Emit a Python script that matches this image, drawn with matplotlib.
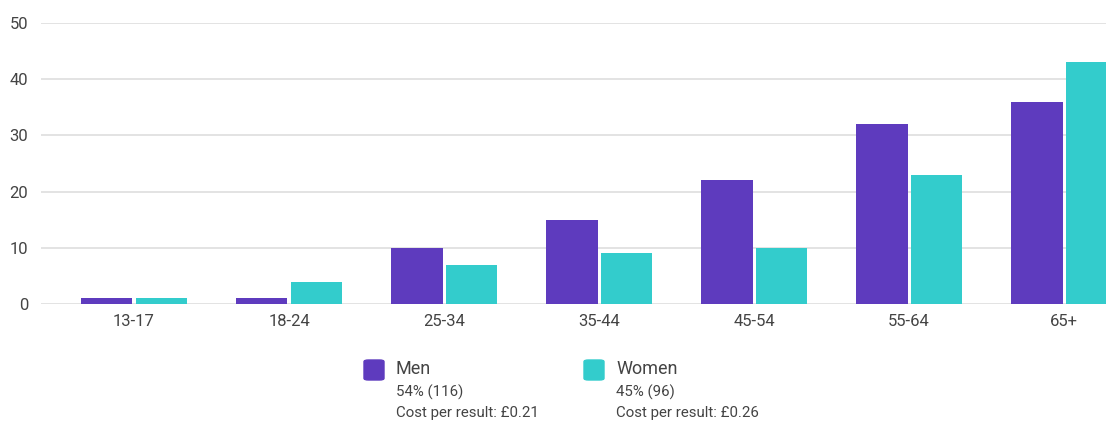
import numpy as np
import matplotlib.pyplot as plt
from matplotlib.patches import FancyBboxPatch

ages = ['13-17', '18-24', '25-34', '35-44', '45-54', '55-64', '65+']
men = [1, 1, 10, 15, 22, 32, 36]
women = [1, 4, 7, 9, 10, 23, 43]
series = ['Men', 'Women']
shares = ['54% (116)', '45% (96)']
costs = ['Cost per result: £0.21', 'Cost per result: £0.26']

MEN_C = '#5E3BBE'
WOMEN_C = '#33CCCC'
TXT = '#444444'

plt.rcParams['font.family'] = ['Roboto', 'DejaVu Sans']

def Main():
    W, H = 1106, 421
    fig = plt.figure(figsize=(W / 100, H / 100), dpi=100)
    ax = fig.add_axes([41 / W, (H - 304) / H, 1 - 41 / W, (304 - 23) / H])

    x = np.arange(len(ages))
    bw = 0.33
    ax.bar(x - bw / 2 - 0.01, men, width=bw, color=MEN_C, zorder=3)
    ax.bar(x + bw / 2 + 0.01, women, width=bw, color=WOMEN_C, zorder=3)

    ax.set_xlim(-0.6, 6.27)
    ax.set_ylim(0, 50)
    ax.set_yticks(range(0, 51, 10))
    ax.set_xticks(x)
    ax.set_xticklabels(ages)
    ax.grid(axis='y', color='#e3e3e3', linewidth=1.4, zorder=0)
    ax.tick_params(length=0, labelsize=12, colors=TXT, pad=7)
    ax.tick_params(axis='y', pad=9)
    for s in ax.spines.values():
        s.set_visible(False)

    # legend block below chart
    cols = [MEN_C, WOMEN_C]
    for i, lx in enumerate([364, 584]):
        fig.patches.append(FancyBboxPatch(
            (lx / W, (H - 380) / H), 20 / W, 20 / H,
            boxstyle='round,pad=0,rounding_size=0.004',
            transform=fig.transFigure, color=cols[i]))
        fig.text((lx + 32) / W, (H - 369) / H, series[i], fontsize=13,
                 color=TXT, va='center')
        fig.text((lx + 32) / W, (H - 392) / H, shares[i], fontsize=10.8,
                 color=TXT, va='center')
        fig.text((lx + 32) / W, (H - 413) / H, costs[i], fontsize=10.8,
                 color=TXT, va='center')

    fig.savefig('out.png', dpi=100)

if __name__ == "__main__":
    Main()
